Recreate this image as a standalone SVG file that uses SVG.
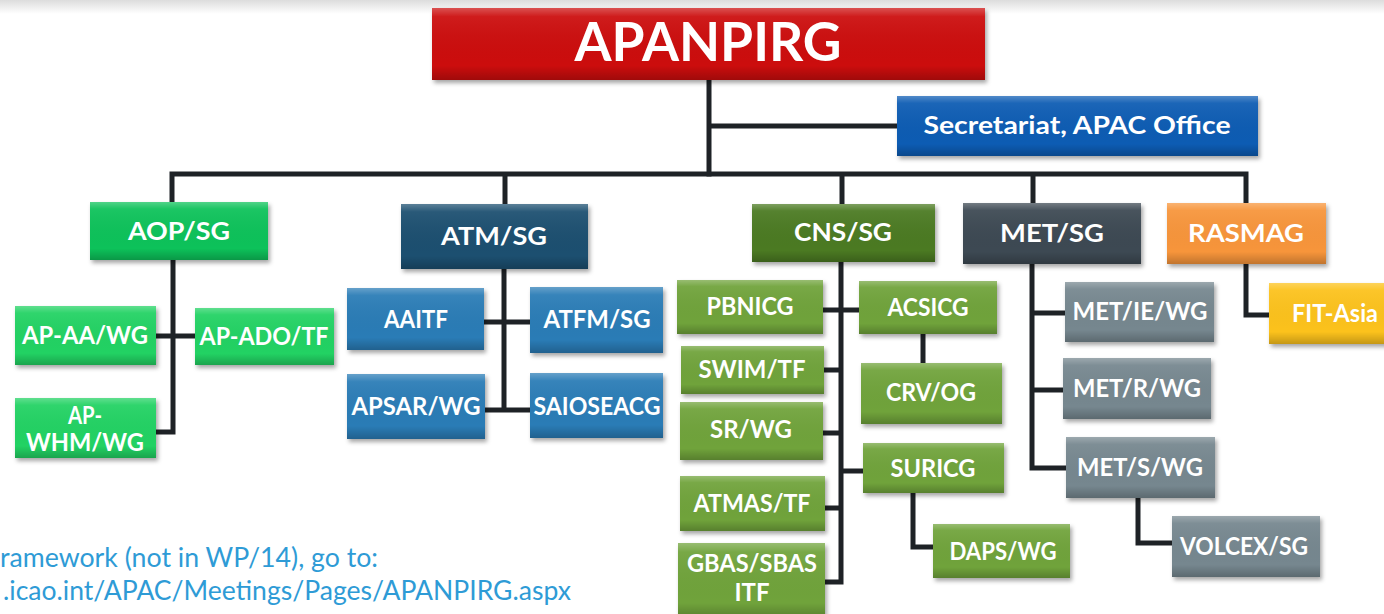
<svg xmlns="http://www.w3.org/2000/svg" width="1384" height="614" viewBox="0 0 1384 614">
<defs>
<linearGradient id="topband" x1="0" y1="0" x2="0" y2="1">
<stop offset="0" stop-color="#dcdcdc"/>
<stop offset="1" stop-color="#ffffff"/>
</linearGradient>
<linearGradient id="shine" x1="0" y1="0" x2="0" y2="1">
<stop offset="0" stop-color="#ffffff" stop-opacity="0.28"/>
<stop offset="0.12" stop-color="#ffffff" stop-opacity="0.06"/>
<stop offset="0.8" stop-color="#000000" stop-opacity="0"/>
<stop offset="1" stop-color="#000000" stop-opacity="0.22"/>
</linearGradient>
<filter id="sh" x="-10%" y="-10%" width="125%" height="135%">
<feDropShadow dx="2" dy="3" stdDeviation="2" flood-color="#000" flood-opacity="0.35"/>
</filter>
</defs>
<style>
.lbl{font-family:Lato,"Open Sans","Liberation Sans",sans-serif;font-weight:bold;fill:#ffffff;font-size:24px;text-anchor:middle}
.big{font-size:54px}
.ov{fill:url(#shine)}
.bx{filter:url(#sh)}
.con{stroke:#1e2226;stroke-width:5;fill:none;stroke-linecap:square}
.note{font-family:Lato,"Open Sans","Liberation Sans",sans-serif;font-size:26px;fill:#2e9bd6}
</style>
<rect x="0" y="0" width="1384" height="614" fill="#ffffff"/>
<rect x="0" y="0" width="1384" height="14" fill="url(#topband)"/>

<g id="connectors">
<path class="con" d="M709 80 V174 M709 126 H897"/>
<path class="con" d="M172 174 H1246 M172 174 V202 M505 174 V204 M842 174 V204 M1033 174 V203 M1246 174 V203"/>
<path class="con" d="M173 260 V432 H156 M156 336 H195"/>
<path class="con" d="M504 269 V410 M484 322 H530 M485 410 H530"/>
<path class="con" d="M841 262 V582 H825 M823 310 H859 M824 370 H841 M823 433 H841 M841 471 H863 M825 508 H841 M923 334 V363 M913 493 V547 H933"/>
<path class="con" d="M1032 264 V468 H1066 M1032 313 H1065 M1032 390 H1063 M1138 498 V543 H1172"/>
<path class="con" d="M1246 264 V315 H1269"/>
</g>

<g id="apanpirg"><rect class="bx" x="432" y="8" width="553" height="72" fill="#cc0a0a"/><rect class="ov" x="432" y="8" width="553" height="72"/><text class="lbl big" x="708" y="61" textLength="267" lengthAdjust="spacingAndGlyphs">APANPIRG</text></g>
<g id="secretariat"><rect class="bx" x="897" y="96" width="361" height="60" fill="#0b5cb3"/><rect class="ov" x="897" y="96" width="361" height="60"/><text class="lbl" x="1077" y="134" textLength="307" lengthAdjust="spacingAndGlyphs">Secretariat, APAC Office</text></g>

<g id="aop"><rect class="bx" x="90" y="202" width="178" height="58" fill="#10c25a"/><rect class="ov" x="90" y="202" width="178" height="58"/><text class="lbl" x="179" y="240" textLength="102" lengthAdjust="spacingAndGlyphs">AOP/SG</text></g>
<g id="atm"><rect class="bx" x="401" y="204" width="187" height="65" fill="#1b4f6f"/><rect class="ov" x="401" y="204" width="187" height="65"/><text class="lbl" x="494" y="245" textLength="106" lengthAdjust="spacingAndGlyphs">ATM/SG</text></g>
<g id="cns"><rect class="bx" x="752" y="204" width="183" height="58" fill="#4b7a20"/><rect class="ov" x="752" y="204" width="183" height="58"/><text class="lbl" x="843" y="241" textLength="98" lengthAdjust="spacingAndGlyphs">CNS/SG</text></g>
<g id="met"><rect class="bx" x="963" y="203" width="178" height="61" fill="#3e4852"/><rect class="ov" x="963" y="203" width="178" height="61"/><text class="lbl" x="1052" y="242" textLength="104" lengthAdjust="spacingAndGlyphs">MET/SG</text></g>
<g id="rasmag"><rect class="bx" x="1167" y="203" width="159" height="61" fill="#f7953b"/><rect class="ov" x="1167" y="203" width="159" height="61"/><text class="lbl" x="1246" y="242" textLength="116" lengthAdjust="spacingAndGlyphs">RASMAG</text></g>

<g id="apaa"><rect class="bx" x="15" y="306" width="141" height="59" fill="#20d264"/><rect class="ov" x="15" y="306" width="141" height="59"/><text class="lbl" x="85" y="344" textLength="126" lengthAdjust="spacingAndGlyphs">AP-AA/WG</text></g>
<g id="apado"><rect class="bx" x="195" y="308" width="139" height="57" fill="#20d264"/><rect class="ov" x="195" y="308" width="139" height="57"/><text class="lbl" x="264" y="345" textLength="129" lengthAdjust="spacingAndGlyphs">AP-ADO/TF</text></g>
<g id="apwhm"><rect class="bx" x="15" y="398" width="141" height="60" fill="#20d264"/><rect class="ov" x="15" y="398" width="141" height="60"/><text class="lbl" x="85" y="424" textLength="34" lengthAdjust="spacingAndGlyphs">AP-</text><text class="lbl" x="85" y="451" textLength="118" lengthAdjust="spacingAndGlyphs">WHM/WG</text></g>

<g id="aaitf"><rect class="bx" x="347" y="288" width="137" height="62" fill="#2b7cb6"/><rect class="ov" x="347" y="288" width="137" height="62"/><text class="lbl" x="416" y="328" textLength="64" lengthAdjust="spacingAndGlyphs">AAITF</text></g>
<g id="atfm"><rect class="bx" x="530" y="287" width="133" height="66" fill="#2b7cb6"/><rect class="ov" x="530" y="287" width="133" height="66"/><text class="lbl" x="597" y="328" textLength="107" lengthAdjust="spacingAndGlyphs">ATFM/SG</text></g>
<g id="apsar"><rect class="bx" x="347" y="374" width="138" height="65" fill="#2b7cb6"/><rect class="ov" x="347" y="374" width="138" height="65"/><text class="lbl" x="416" y="415" textLength="129" lengthAdjust="spacingAndGlyphs">APSAR/WG</text></g>
<g id="saioseacg"><rect class="bx" x="530" y="373" width="133" height="65" fill="#2b7cb6"/><rect class="ov" x="530" y="373" width="133" height="65"/><text class="lbl" x="597" y="415" textLength="127" lengthAdjust="spacingAndGlyphs">SAIOSEACG</text></g>

<g id="pbnicg"><rect class="bx" x="677" y="280" width="146" height="54" fill="#6fa33a"/><rect class="ov" x="677" y="280" width="146" height="54"/><text class="lbl" x="750" y="315" textLength="87" lengthAdjust="spacingAndGlyphs">PBNICG</text></g>
<g id="acsicg"><rect class="bx" x="859" y="281" width="138" height="53" fill="#6fa33a"/><rect class="ov" x="859" y="281" width="138" height="53"/><text class="lbl" x="928" y="316" textLength="81" lengthAdjust="spacingAndGlyphs">ACSICG</text></g>
<g id="swim"><rect class="bx" x="681" y="346" width="143" height="48" fill="#6fa33a"/><rect class="ov" x="681" y="346" width="143" height="48"/><text class="lbl" x="752" y="378" textLength="107" lengthAdjust="spacingAndGlyphs">SWIM/TF</text></g>
<g id="crv"><rect class="bx" x="861" y="363" width="141" height="61" fill="#6fa33a"/><rect class="ov" x="861" y="363" width="141" height="61"/><text class="lbl" x="931" y="401" textLength="90" lengthAdjust="spacingAndGlyphs">CRV/OG</text></g>
<g id="sr"><rect class="bx" x="680" y="402" width="143" height="58" fill="#6fa33a"/><rect class="ov" x="680" y="402" width="143" height="58"/><text class="lbl" x="751" y="438" textLength="82" lengthAdjust="spacingAndGlyphs">SR/WG</text></g>
<g id="suricg"><rect class="bx" x="863" y="443" width="141" height="50" fill="#6fa33a"/><rect class="ov" x="863" y="443" width="141" height="50"/><text class="lbl" x="933" y="477" textLength="85" lengthAdjust="spacingAndGlyphs">SURICG</text></g>
<g id="atmas"><rect class="bx" x="680" y="476" width="145" height="55" fill="#6fa33a"/><rect class="ov" x="680" y="476" width="145" height="55"/><text class="lbl" x="752" y="512" textLength="117" lengthAdjust="spacingAndGlyphs">ATMAS/TF</text></g>
<g id="daps"><rect class="bx" x="933" y="524" width="137" height="54" fill="#6fa33a"/><rect class="ov" x="933" y="524" width="137" height="54"/><text class="lbl" x="1003" y="560" textLength="107" lengthAdjust="spacingAndGlyphs">DAPS/WG</text></g>
<g id="gbas"><rect class="bx" x="678" y="543" width="147" height="75" fill="#6fa33a"/><rect class="ov" x="678" y="543" width="147" height="75"/><text class="lbl" x="752" y="572" textLength="130" lengthAdjust="spacingAndGlyphs">GBAS/SBAS</text><text class="lbl" x="752" y="601" textLength="35" lengthAdjust="spacingAndGlyphs">ITF</text></g>

<g id="metie"><rect class="bx" x="1065" y="282" width="149" height="60" fill="#76878f"/><rect class="ov" x="1065" y="282" width="149" height="60"/><text class="lbl" x="1140" y="320" textLength="135" lengthAdjust="spacingAndGlyphs">MET/IE/WG</text></g>
<g id="metr"><rect class="bx" x="1063" y="358" width="148" height="61" fill="#76878f"/><rect class="ov" x="1063" y="358" width="148" height="61"/><text class="lbl" x="1137" y="397" textLength="128" lengthAdjust="spacingAndGlyphs">MET/R/WG</text></g>
<g id="mets"><rect class="bx" x="1066" y="437" width="149" height="61" fill="#76878f"/><rect class="ov" x="1066" y="437" width="149" height="61"/><text class="lbl" x="1140" y="476" textLength="126" lengthAdjust="spacingAndGlyphs">MET/S/WG</text></g>
<g id="volcex"><rect class="bx" x="1172" y="516" width="148" height="61" fill="#76878f"/><rect class="ov" x="1172" y="516" width="148" height="61"/><text class="lbl" x="1244" y="555" textLength="128" lengthAdjust="spacingAndGlyphs">VOLCEX/SG</text></g>

<g id="fitasia"><rect class="bx" x="1269" y="283" width="130" height="61" fill="#fcc21b"/><rect class="ov" x="1269" y="283" width="130" height="61"/><text class="lbl" x="1335" y="322" textLength="86" lengthAdjust="spacingAndGlyphs">FIT-Asia</text></g>

<g id="note">
<text class="note" x="0" y="567" textLength="378" lengthAdjust="spacingAndGlyphs">ramework (not in WP/14), go to:</text>
<text class="note" x="3" y="600" textLength="568" lengthAdjust="spacingAndGlyphs">.icao.int/APAC/Meetings/Pages/APANPIRG.aspx</text>
</g>
</svg>
